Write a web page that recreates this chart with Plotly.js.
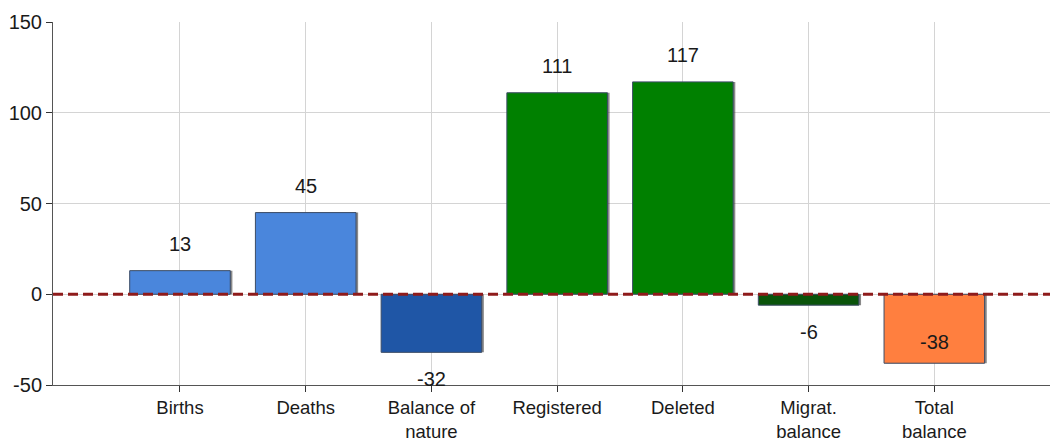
<!DOCTYPE html>
<html>
<head>
<meta charset="utf-8">
<script src="https://cdn.plot.ly/plotly-3.0.1.min.js"></script>
<style>html,body{margin:0;padding:0;background:#fff;}#chart{width:1050px;height:443px;}</style>
</head>
<body>
<div id="chart"></div>
<script>
var categories = ["Births", "Deaths", "Balance of<br>nature", "Registered", "Deleted", "Migrat.<br>balance", "Total<br>balance"];
var values = [13, 45, -32, 111, 117, -6, -38];
var barColors = ["#4A86DC", "#4A86DC", "#1F56A6", "#008000", "#008000", "#0A540A", "#FF7F3F"];
var yTicks = [-50, 0, 50, 100, 150];
var yRange = [-50, 150];

var FONT = 'Liberation Sans, Arial, sans-serif';
var labelShift = 27;
var pxPerUnit = 363 / (yRange[1] - yRange[0]);
var annotations = values.map(function (v, i) {
  var shift = v >= 0 ? labelShift : -labelShift;
  var labelVal = v + shift / pxPerUnit;
  if (labelVal < yRange[0] + 4 / pxPerUnit) shift = 21; // inside the bar if it would leave the plot
  return {
    x: categories[i], y: v, xref: 'x', yref: 'y',
    text: String(v), showarrow: false, yshift: shift,
    yanchor: 'middle', xanchor: 'center',
    font: {family: FONT, size: 20, color: '#1a1a1a'}
  };
});

var shadow = {
  type: 'bar', x: categories, y: values, width: 0.8, offset: -0.383,
  marker: {color: 'rgba(40,40,40,0.55)', line: {width: 0}},
  hoverinfo: 'skip', showlegend: false
};
var bars = {
  type: 'bar', x: categories, y: values, width: 0.8, offset: -0.4,
  marker: {color: barColors, line: {color: '#3c4c66', width: 1}},
  showlegend: false
};

var layout = {
  width: 1050, height: 443,
  margin: {l: 53, r: 0, t: 22, b: 58},
  paper_bgcolor: '#ffffff', plot_bgcolor: '#ffffff',
  barmode: 'overlay',
  font: {family: FONT, size: 20, color: '#1a1a1a'},
  xaxis: {
    type: 'category', range: [-1.01, 6.92],
    showgrid: true, gridcolor: '#d4d4d4', gridwidth: 1,
    showline: true, linecolor: '#555555', linewidth: 1,
    ticks: 'outside', ticklen: 6, tickcolor: '#333333',
    tickfont: {family: FONT, size: 18.5, color: '#1a1a1a'}, zeroline: false
  },
  yaxis: {
    range: yRange, tickvals: yTicks, ticktext: yTicks.map(String),
    showgrid: true, gridcolor: '#d4d4d4', gridwidth: 1,
    showline: true, linecolor: '#555555', linewidth: 1,
    ticks: 'outside', ticklen: 6, tickcolor: '#333333',
    tickfont: {family: FONT, size: 20, color: '#1a1a1a'}, zeroline: false
  },
  shapes: [{
    type: 'line', xref: 'paper', x0: 0, x1: 1, yref: 'y', y0: 0, y1: 0,
    line: {color: '#8E1B1B', width: 3, dash: '10px,5px'}, layer: 'above'
  }],
  annotations: annotations
};

Plotly.newPlot('chart', [shadow, bars], layout, {displayModeBar: false, staticPlot: true});
</script>
</body>
</html>
